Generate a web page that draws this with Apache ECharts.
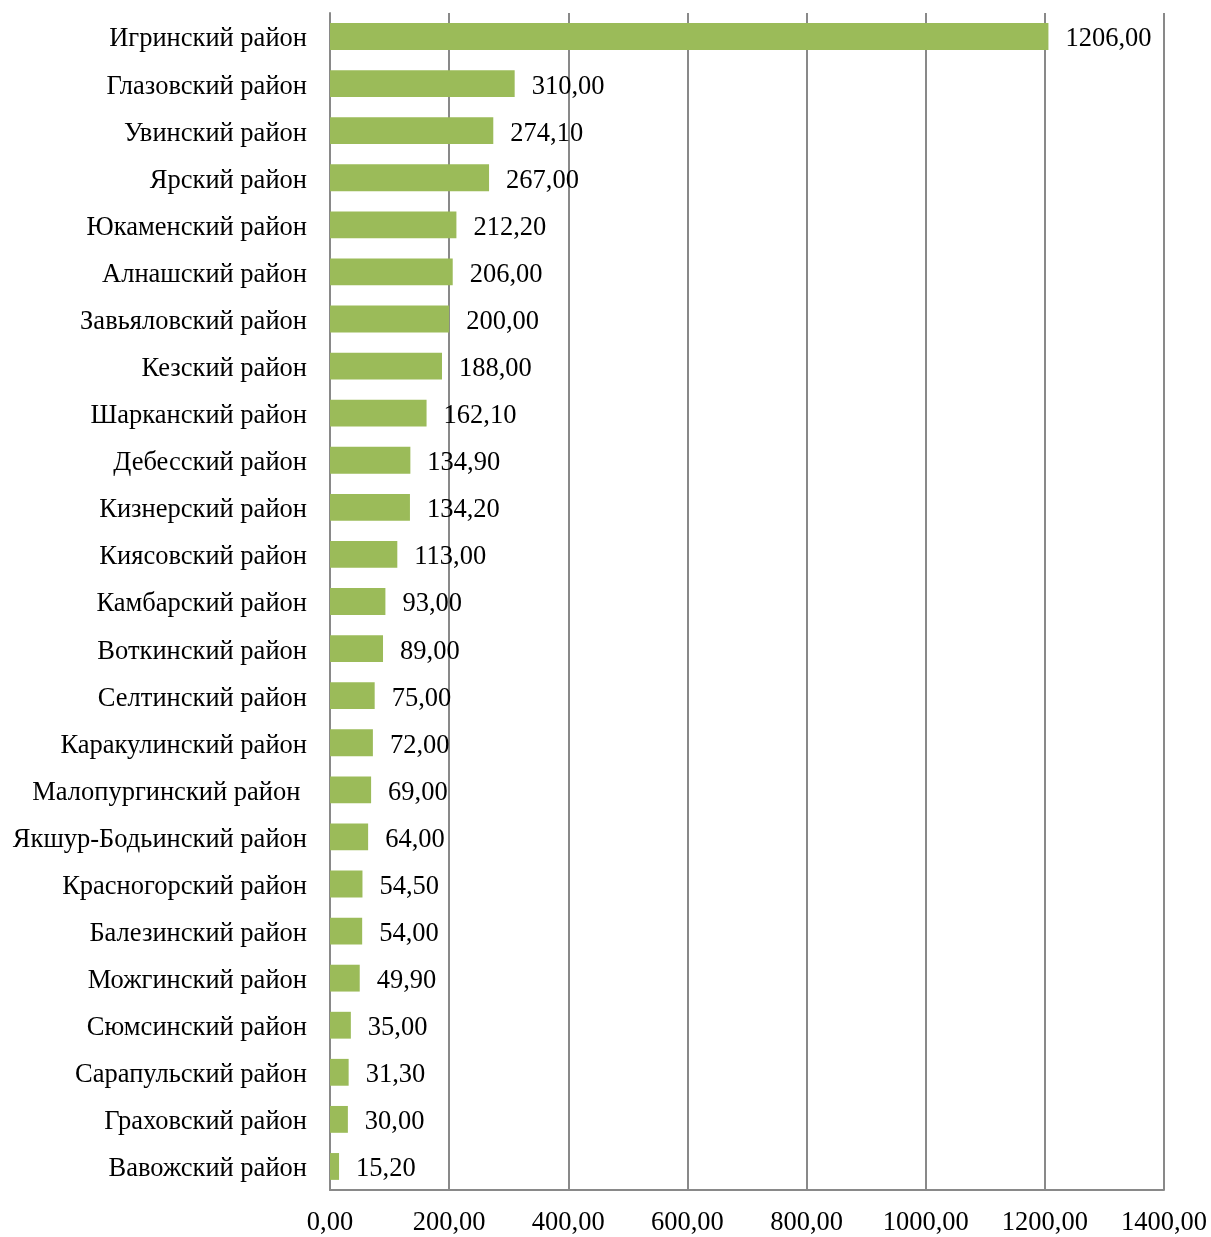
<!DOCTYPE html>
<html><head><meta charset="utf-8">
<script src="https://cdn.jsdelivr.net/npm/echarts@6/dist/echarts.min.js"></script>
<style>html,body{margin:0;padding:0;background:#fff}#c{width:1211px;height:1237px}</style>
</head><body><div id="c"></div>
<script>
const categories = ["Игринский район","Глазовский район","Увинский район","Ярский район","Юкаменский район","Алнашский район","Завьяловский район","Кезский район","Шарканский район","Дебесский район","Кизнерский район","Киясовский район","Камбарский район","Воткинский район","Селтинский район","Каракулинский район","Малопургинский район ","Якшур-Бодьинский район","Красногорский район","Балезинский район","Можгинский район","Сюмсинский район","Сарапульский район","Граховский район","Вавожский район"];
const values = [1206,310,274.1,267,212.2,206,200,188,162.1,134.9,134.2,113,93,89,75,72,69,64,54.5,54,49.9,35,31.3,30,15.2];
const xTicks = {min:0, max:1400, interval:200};
const fmt = v => Number(v).toFixed(2).replace('.', ',');
const font = '"Liberation Serif","Times New Roman",serif';
const fs = 26.5;
const chart = echarts.init(document.getElementById('c'));
chart.setOption({
  animation:false,
  grid:{left:330,right:47,top:13,bottom:40,containLabel:false},
  xAxis:{type:'value',min:xTicks.min,max:xTicks.max,interval:xTicks.interval,
    axisLine:{show:true,lineStyle:{color:'#898989',width:2}},
    axisTick:{show:false},
    splitLine:{show:true,lineStyle:{color:'#898989',width:2}},
    axisLabel:{formatter:fmt,fontFamily:font,fontSize:fs,color:'#000',margin:20}},
  yAxis:{type:'category',data:categories,inverse:true,
    axisLine:{show:true,lineStyle:{color:'#898989',width:2}},
    axisTick:{show:false},
    axisLabel:{fontFamily:font,fontSize:fs,color:'#000',margin:23,padding:[0,0,0,0],
      formatter:v=>'{a|'+v+'}',rich:{a:{fontFamily:font,fontSize:fs,color:'#000',padding:[6,0,0,0]}}}},
  series:[{type:'bar',data:values,barWidth:'57%',itemStyle:{color:'#9BBB59'},
    label:{show:true,position:'right',distance:17,offset:[0,3],formatter:p=>fmt(p.value),fontFamily:font,fontSize:fs,color:'#000'}}]
});
</script></body></html>
